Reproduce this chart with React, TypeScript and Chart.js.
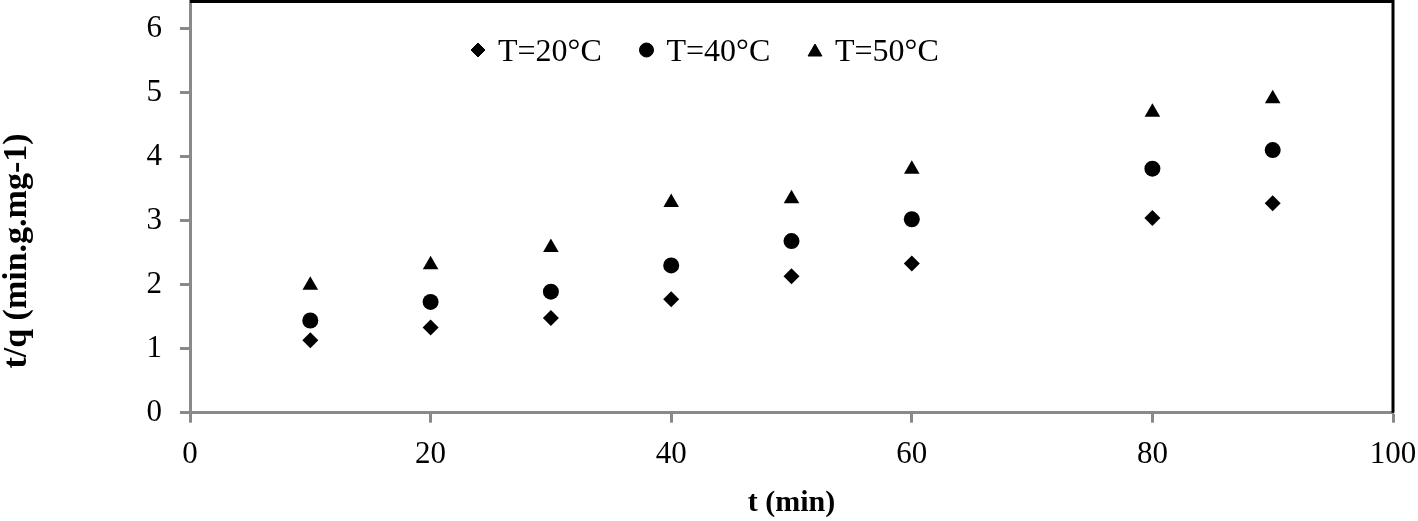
import React, { useEffect, useRef } from 'react';
import { Chart, registerables } from 'chart.js';
import { drawPoint } from 'chart.js/helpers';

Chart.register(...registerables);

const timeMin = [10, 20, 30, 40, 50, 60, 80, 90];
const q20 = [1.13, 1.33, 1.48, 1.77, 2.13, 2.33, 3.04, 3.27];
const q40 = [1.44, 1.73, 1.89, 2.3, 2.68, 3.02, 3.81, 4.1];
const q50 = [1.99, 2.31, 2.58, 3.28, 3.34, 3.8, 4.69, 4.9];
const seriesLabels = ['T=20°C', 'T=40°C', 'T=50°C'];
const seriesStyles = ['rectRot', 'circle', 'triangle'];
const xTitle = 't (min)';
const yTitle = 't/q (min.g.mg-1)';

const FONT = '"Liberation Serif", "Times New Roman", serif';
const AXIS_GRAY = '#898989';

const framePlugin = {
  id: 'frameAndLegend',
  afterDraw(chart: any) {
    const { ctx, chartArea: a } = chart;
    ctx.save();
    // black top/right frame
    ctx.strokeStyle = '#000';
    ctx.lineWidth = 3;
    ctx.beginPath();
    ctx.moveTo(a.left, a.top);
    ctx.lineTo(a.right, a.top);
    ctx.lineTo(a.right, a.bottom);
    ctx.stroke();

    // y title
    ctx.save();
    ctx.fillStyle = '#000';
    ctx.font = `bold 34px ${FONT}`;
    ctx.translate(17, 251);
    ctx.rotate(-Math.PI / 2);
    ctx.textAlign = 'center';
    ctx.textBaseline = 'middle';
    ctx.fillText(yTitle, 0, 0);
    ctx.restore();

    // legend
    const startX = 478;
    const step = 168.5;
    const markerY = 50;
    ctx.font = `32px ${FONT}`;
    ctx.textAlign = 'left';
    ctx.textBaseline = 'alphabetic';
    chart.data.datasets.forEach((ds: any, i: number) => {
      const cx = startX + i * step;
      ctx.fillStyle = '#000';
      ctx.strokeStyle = '#000';
      ctx.lineWidth = 1;
      drawPoint(ctx, { pointStyle: ds.pointStyle, radius: ds.pointStyle === 'triangle' ? 8 : 7, rotation: 0, borderWidth: 1 } as any, cx, ds.pointStyle === 'triangle' ? markerY + 2 : markerY);
      ctx.fillStyle = '#000';
      ctx.fillText(ds.label, cx + 20, 61);
    });
    ctx.restore();
  },
};

export default function App() {
  const ref = useRef<HTMLCanvasElement | null>(null);

  useEffect(() => {
    if (!ref.current) return;
    const series = [q20, q40, q50];
    const chart = new Chart(ref.current, {
      type: 'scatter',
      data: {
        datasets: series.map((vals, i) => ({
          label: seriesLabels[i],
          data: timeMin.map((t, j) => ({ x: t, y: vals[j] })),
          pointStyle: seriesStyles[i] as any,
          pointRadius: seriesStyles[i] === 'triangle' ? 9 : 8,
          pointBackgroundColor: '#000',
          pointBorderColor: '#000',
          pointBorderWidth: 0,
          showLine: false,
        })),
      },
      options: {
        animation: false,
        responsive: true,
        maintainAspectRatio: false,
        layout: { autoPadding: false, padding: { top: 1.5, right: 25, left: 0, bottom: 0 } },
        plugins: {
          legend: { display: false },
          tooltip: { enabled: false },
        },
        scales: {
          x: {
            type: 'linear',
            min: 0,
            max: 100,
            ticks: { stepSize: 20, color: '#000', font: { family: FONT, size: 31 }, padding: 14 },
            grid: { drawOnChartArea: false, drawTicks: true, tickLength: 10, tickWidth: 3, tickColor: AXIS_GRAY },
            border: { color: AXIS_GRAY, width: 3 },
            title: {
              display: true,
              text: xTitle,
              color: '#000',
              font: { family: FONT, size: 30, weight: 'bold' },
              padding: { top: 0, bottom: 0 },
            },
            afterFit(s: any) {
              s.height = 108.3;
              s.paddingLeft = 0;
              s.paddingRight = 0;
            },
          },
          y: {
            type: 'linear',
            min: 0,
            max: 6.42,
            ticks: { stepSize: 1, includeBounds: false, color: '#000', font: { family: FONT, size: 31 }, padding: 18 },
            grid: { drawOnChartArea: false, drawTicks: true, tickLength: 10, tickWidth: 3, tickColor: AXIS_GRAY },
            border: { color: AXIS_GRAY, width: 3 },
            afterFit(s: any) {
              s.width = 190;
              s.paddingTop = 0;
              s.paddingBottom = 0;
            },
          },
        },
      },
      plugins: [framePlugin],
    });
    return () => chart.destroy();
  }, []);

  return (
    <div style={{ position: 'absolute', left: 0, top: 0, width: '1418px', height: '521px', background: '#fff' }}>
      <canvas ref={ref} />
    </div>
  );
}
